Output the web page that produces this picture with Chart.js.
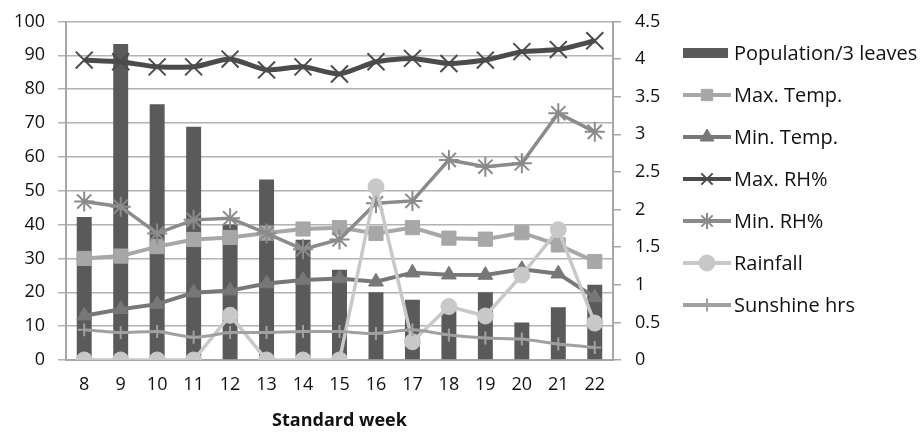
<!DOCTYPE html>
<html>
<head>
<meta charset="utf-8">
<script src="https://cdn.jsdelivr.net/npm/chart.js@4.4.1/dist/chart.umd.min.js"></script>
<style>
  html, body { margin: 0; padding: 0; background: #fff; }
  #wrap { width: 921px; height: 434px; position: relative; }
</style>
</head>
<body>
<div id="wrap"><canvas id="c" width="921" height="434"></canvas></div>
<script>
// Standard weeks on the category axis
const weeks = ['8', '9', '10', '11', '12', '13', '14', '15', '16', '17', '18', '19', '20', '21', '22'];

// Pest population per 3 leaves (secondary axis, 0-4.5)
const population = [1.9, 4.2, 3.4, 3.1, 1.8, 2.4, 1.6, 1.2, 0.9, 0.8, 0.65, 0.9, 0.5, 0.7, 1.0];

// Weather parameters (primary axis, 0-100)
const maxTemp  = [30.0, 30.7, 33.5, 35.6, 36.2, 37.5, 38.7, 39.1, 37.4, 39.1, 36.0, 35.7, 37.6, 34.0, 29.1];
const minTemp  = [13.1, 15.0, 16.5, 19.9, 20.5, 22.6, 23.6, 24.1, 23.1, 25.8, 25.2, 25.1, 26.8, 25.5, 18.5];
const maxRH    = [88.6, 88.1, 86.6, 86.6, 88.9, 85.7, 86.6, 84.5, 88.1, 89.1, 87.6, 88.6, 91.1, 91.7, 94.3];
const minRH    = [46.8, 45.3, 37.4, 41.4, 41.9, 37.4, 32.7, 35.6, 46.3, 47.0, 59.1, 57.1, 58.1, 72.9, 67.4];
const rainfall = [0, 0, 0, 0, 13.2, 0, 0, 0, 51.2, 5.4, 15.8, 13.0, 25.1, 38.5, 10.9];
const sunshine = [8.9, 8.1, 8.4, 6.7, 8.1, 8.1, 8.4, 8.4, 7.8, 8.9, 7.4, 6.5, 6.2, 4.7, 3.7];

// Axis tick settings
const leftTicks  = { min: 0, max: 100, step: 10 };
const rightTicks = { min: 0, max: 4.5, step: 0.5 };

const FONT = '"Open Sans", Lato, "Liberation Sans", sans-serif';

function lineSet(label, data, color, width, style, radius, order, tension) {
  return {
    type: 'line', label, data, yAxisID: 'y', order,
    borderColor: color, backgroundColor: color, borderWidth: width,
    pointStyle: style, pointRadius: radius, pointHoverRadius: radius,
    pointBackgroundColor: color, pointBorderColor: color,
    pointBorderWidth: (style === 'crossRot' || style === 'star' || style === 'cross') ? 2 : 1,
    tension: tension || 0, fill: false
  };
}

const datasets = [
  {
    type: 'bar', label: 'Population/3 leaves', data: population, yAxisID: 'y1', order: 10,
    backgroundColor: '#5a5a5a', borderWidth: 0,
    categoryPercentage: 1, barPercentage: 0.41
  },
  lineSet('Max. Temp.', maxTemp,  '#a7a7a7', 4,   'rect',     10,  7),
  lineSet('Min. Temp.', minTemp,  '#777777', 4,   'triangle', 8.5, 6),
  lineSet('Max. RH%',   maxRH,    '#4b4b4b', 5,   'crossRot', 12,  5, 0.2),
  lineSet('Min. RH%',   minRH,    '#8b8b8b', 3.5, 'star',     10,  4),
  lineSet('Rainfall',   rainfall, '#c8c8c8', 3.5, 'circle',   8,   3),
  lineSet('Sunshine hrs', sunshine, '#a0a0a0', 3, 'cross',    6.5, 2, 0.2)
];

// Legend drawn at the right with a line + marker glyph per series
const sideLegend = {
  id: 'sideLegend',
  afterDraw(chart) {
    const ctx = chart.ctx;
    const x0 = 683, x1 = 731, tx = 734;
    let y = 53;
    ctx.save();
    ctx.font = '20px ' + FONT;
    ctx.textBaseline = 'middle';
    ctx.textAlign = 'left';
    chart.data.datasets.forEach(ds => {
      if (ds.type === 'bar') {
        ctx.fillStyle = ds.backgroundColor;
        ctx.fillRect(x0, y - 5, x1 - x0 - 3, 10);
      } else {
        ctx.strokeStyle = ds.borderColor;
        ctx.lineWidth = 4;
        ctx.beginPath();
        ctx.moveTo(x0, y);
        ctx.lineTo(x1, y);
        ctx.stroke();
        ctx.fillStyle = ds.pointBackgroundColor;
        ctx.strokeStyle = ds.pointBorderColor;
        ctx.lineWidth = ds.pointBorderWidth;
        Chart.helpers.drawPoint(ctx, {
          pointStyle: ds.pointStyle,
          radius: Math.min(ds.pointRadius, 8),
          rotation: 0,
          borderWidth: ds.pointBorderWidth
        }, (x0 + x1) / 2, y);
      }
      ctx.fillStyle = '#111';
      ctx.fillText(ds.label, tx, y + 1);
      y += 42;
    });
    ctx.restore();
  }
};

new Chart(document.getElementById('c'), {
  data: { labels: weeks, datasets },
  options: {
    responsive: false,
    animation: false,
    events: [],
    layout: { padding: { top: 21.5, bottom: 0, left: 0, right: 0 } },
    plugins: { legend: { display: false }, tooltip: { enabled: false } },
    scales: {
      x: {
        type: 'category',
        offset: true,
        grid: { display: false, drawTicks: false },
        border: { display: true, color: '#a6a6a6', width: 2 },
        ticks: { color: '#111', padding: 14, font: { family: FONT, size: 18 } },
        title: {
          display: true, text: 'Standard week', color: '#111',
          font: { family: FONT, size: 18, weight: 'bold' },
          padding: { top: 0, bottom: 2 }
        },
        afterFit(scale) { scale.height = 74; }
      },
      y: {
        position: 'left',
        min: leftTicks.min, max: leftTicks.max,
        grid: { color: '#b2b2b2', lineWidth: 1.5, tickLength: 8, drawTicks: true },
        border: { display: true, color: '#a6a6a6', width: 2 },
        ticks: { stepSize: leftTicks.step, color: '#111', padding: 13, font: { family: FONT, size: 18 } },
        afterFit(scale) { scale.width = 66; scale.paddingTop = 0; scale.paddingBottom = 0; }
      },
      y1: {
        position: 'right',
        min: rightTicks.min, max: rightTicks.max,
        grid: { drawOnChartArea: false, drawTicks: true, color: '#a6a6a6', lineWidth: 1.5, tickLength: 8 },
        border: { display: true, color: '#a6a6a6', width: 2 },
        ticks: {
          stepSize: rightTicks.step, color: '#111', padding: 14, crossAlign: 'near',
          font: { family: FONT, size: 18 },
          callback: v => String(Math.round(v * 10) / 10)
        },
        afterFit(scale) { scale.width = 308; scale.paddingTop = 0; scale.paddingBottom = 0; }
      }
    }
  },
  plugins: [sideLegend]
});
</script>
</body>
</html>
